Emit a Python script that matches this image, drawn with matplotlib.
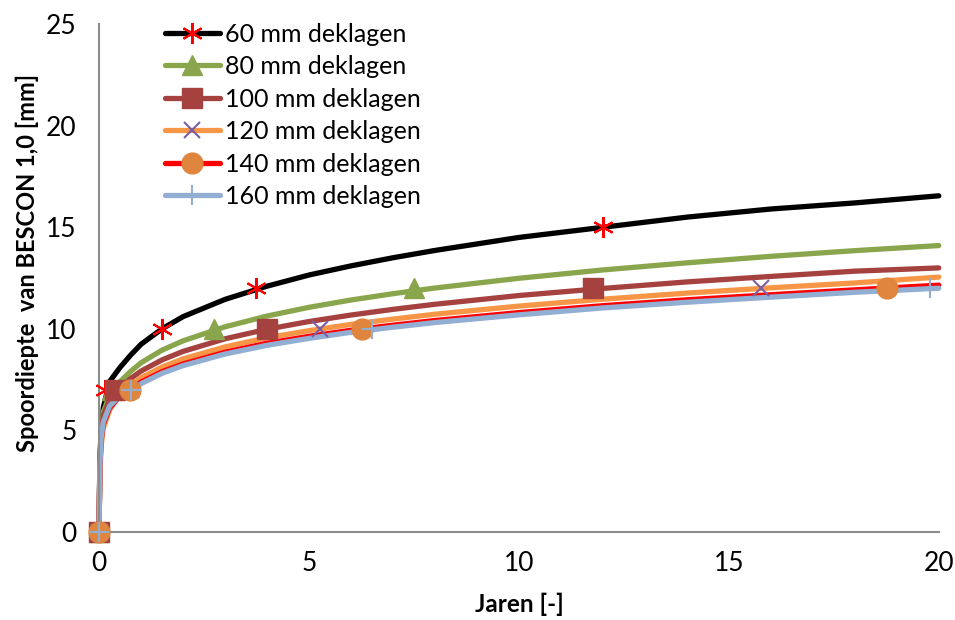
import matplotlib
matplotlib.use("Agg")
import matplotlib.pyplot as plt
from matplotlib.lines import Line2D

plt.rcParams['font.family'] = ['Lato', 'DejaVu Sans']

# curve sample points (x in jaren)
curve_x = [0, 0.02, 0.05, 0.1, 0.25, 0.5, 0.75, 1, 1.5, 2, 3, 4, 5, 6, 7, 8,
           10, 12, 14, 16, 18, 20]

y_60 = [0, 3.4, 4.7, 6.1, 7.4, 8.1, 8.7, 9.24, 10.0, 10.6, 11.45, 12.1, 12.65,
        13.1, 13.5, 13.86, 14.5, 15.0, 15.5, 15.9, 16.2, 16.55]
y_80 = [0, 3.7, 5.0, 5.9, 6.7, 7.4, 7.9, 8.33, 8.95, 9.41, 10.1, 10.63, 11.06,
        11.42, 11.73, 12.01, 12.49, 12.9, 13.25, 13.57, 13.85, 14.1]
y_100 = [0, 3.6, 4.9, 5.7, 6.5, 7.1, 7.55, 7.92, 8.47, 8.89, 9.51, 9.98, 10.36,
         10.68, 10.96, 11.21, 11.64, 11.99, 12.31, 12.58, 12.84, 13.0]
y_120 = [0, 2.8, 4.2, 5.1, 6.0, 6.8, 7.23, 7.59, 8.12, 8.52, 9.11, 9.56, 9.91,
         10.22, 10.48, 10.72, 11.12, 11.46, 11.76, 12.02, 12.26, 12.55]
y_140 = [0, 3.2, 4.5, 5.3, 6.1, 6.7, 7.05, 7.38, 7.89, 8.27, 8.85, 9.29, 9.63,
         9.93, 10.18, 10.41, 10.8, 11.14, 11.43, 11.68, 11.92, 12.15]
y_160 = [0, 3.3, 4.6, 5.4, 6.2, 6.7, 7.0, 7.3, 7.81, 8.19, 8.76, 9.19, 9.53,
         9.83, 10.08, 10.31, 10.69, 11.03, 11.31, 11.56, 11.8, 12.0]

# marker points
mx_60 = [0, 0.14, 1.5, 3.75, 12.0]
my_60 = [0, 7, 10, 12, 15]
mx_80 = [0, 0.3, 2.74, 7.5]
my_80 = [0, 7, 10, 12]
mx_100 = [0, 0.38, 4.0, 11.76]
my_100 = [0, 7, 10, 12]
mx_120 = [0, 0.75, 5.26, 15.76]
my_120 = [0, 7, 10, 12]
mx_140 = [0, 0.74, 6.26, 18.76]
my_140 = [0, 7, 10, 12]
mx_160 = [0, 0.76, 6.5, 19.8]
my_160 = [0, 7, 10, 12]

labels = ['60 mm deklagen', '80 mm deklagen', '100 mm deklagen',
          '120 mm deklagen', '140 mm deklagen', '160 mm deklagen']

series = [
    (y_60, mx_60, my_60, '#000000', (6, 2, 0), '#FF0000', 15, 1.5),
    (y_80, mx_80, my_80, '#8AA64C', '^', '#8AA64C', 15, 1),
    (y_100, mx_100, my_100, '#A5423F', 's', '#A5423F', 14, 1),
    (y_120, mx_120, my_120, '#F79646', 'x', '#7B5EA6', 12, 1.5),
    (y_140, mx_140, my_140, '#FF0000', 'o', '#E0853E', 15, 1),
    (y_160, mx_160, my_160, '#93AED3', '+', '#93AED3', 15, 1.5),
]

fig = plt.figure(figsize=(9.55, 6.2), dpi=100)
ax = fig.add_axes([0.1037, 0.142, 0.8793, 0.819])

handles = []
for ys, mx, my, lc, mk, mc, ms, mew in series:
    ax.plot(curve_x, ys, color=lc, lw=3.8, solid_capstyle='round', zorder=2)
    filled = mk in ('^', 's', 'o')
    ax.plot(mx, my, ls='none', marker=mk, ms=ms, mew=mew,
            mfc=mc if filled else 'none', mec=mc, zorder=3)
    handles.append(Line2D([], [], color=lc, lw=3.8, solid_capstyle='round',
                          marker=mk, ms=ms, mew=mew,
                          mfc=mc if filled else 'none', mec=mc))

ax.set_xlim(0, 20)
ax.set_ylim(0, 25)
ax.set_xticks([0, 5, 10, 15, 20])
ax.set_yticks([0, 5, 10, 15, 20, 25])
ax.tick_params(length=0, labelsize=19)
ax.tick_params(axis='x', pad=14)
ax.tick_params(axis='y', pad=16)
for s in ['top', 'right']:
    ax.spines[s].set_visible(False)
for s in ['left', 'bottom']:
    ax.spines[s].set_color('#8C8C8C')
    ax.spines[s].set_linewidth(1.5)
for ln in ax.lines:
    ln.set_clip_on(False)

ax.set_xlabel('Jaren [-]', fontsize=17.5, fontweight='bold', labelpad=12)
ax.set_ylabel('Spoordiepte  van BESCON 1,0 [mm]', fontsize=17,
              fontweight='bold')
ax.yaxis.set_label_coords(-0.071, 0.53)

ax.legend(handles, labels, loc='upper left', bbox_to_anchor=(0.078, 1.003),
          frameon=False, fontsize=18, handlelength=2.2, handletextpad=0.2,
          labelspacing=0.38, borderaxespad=0, borderpad=0)

fig.savefig('out.png', dpi=100)
